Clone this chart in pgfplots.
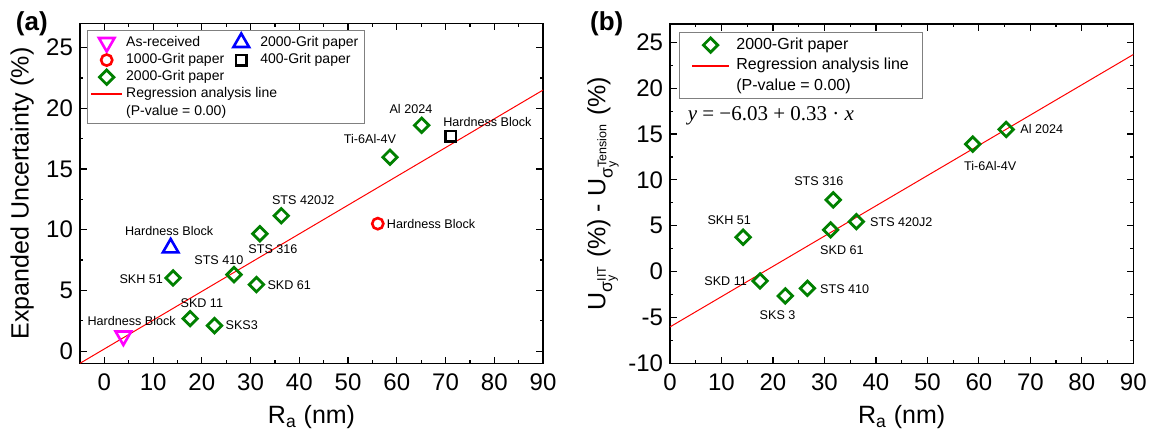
\documentclass[border=0pt]{standalone}
\usepackage{pgfplots}
\pgfplotsset{compat=1.18}
\usepackage{amsmath}
\usepackage{fontspec}
\setmainfont{Liberation Sans}
\newfontfamily\timesf{Liberation Serif}
\definecolor{mkgreen}{RGB}{0,128,0}
\definecolor{mkmag}{RGB}{255,0,255}
\definecolor{lgray}{RGB}{128,128,128}

\newcommand{\ann}{\fontsize{6.3}{7.5}\selectfont}
% legend images: width, colour, line width, mark, mark size, rotation
\newcommand{\lgmark}[6]{\addlegendimage{legend image code/.code={\path[draw=none] (0pt,0pt) (#1,0pt);
  \begin{scope}[shift={(0.5*#1,0pt)}, rotate=#6, color=#2, line width=#3]\pgfsetplotmarksize{#5}\pgfuseplotmark{#4}\end{scope}}}}
\newcommand{\lgline}[1]{\addlegendimage{legend image code/.code={\begin{scope}[color=red]
  \fill[red] (0pt,-0.25pt) rectangle (#1,0.25pt);\end{scope}}}}
\newcommand{\lgnone}[1]{\addlegendimage{legend image code/.code={\path[draw=none] (0pt,0pt) (#1,0pt);}}}

\pgfplotsset{
  panel/.style={
    scale only axis,
    clip=false,
    tick align=inside,
    minor x tick num=1, minor y tick num=1,
    major tick length=3.3pt, minor tick length=1.7pt,
    major tick style={line width=0.6pt, black},
    minor tick style={line width=0.6pt, black},
    axis line style={line width=0.75pt},
    tick label style={font=\fontsize{12}{14}\selectfont},
    x tick label style={yshift=-1.8pt},
    label style={font=\fontsize{12.5}{15}\selectfont},
    /pgf/number format/assume math mode=true,
    xtick={0,10,...,90},
    xlabel={R\textsubscript{a} (nm)},
    xlabel style={at={(axis description cs:0.5,-0.1785)}, anchor=base},
  },
  grn/.style={only marks, mark=square, mark size=2.55pt,
    mark options={rotate=45, line width=1.4pt, draw=mkgreen, fill=none}},
  tdn/.style={only marks, mark=triangle, mark size=4.5pt,
    mark options={rotate=180, line width=1.3pt, draw=mkmag, fill=none}},
  tup/.style={only marks, mark=triangle, mark size=4.5pt,
    mark options={line width=1.3pt, draw=blue, fill=none}},
  rcirc/.style={only marks, mark=o, mark size=2.8pt,
    mark options={line width=1.3pt, draw=red}},
  bsq/.style={only marks, mark=square, mark size=2.6pt,
    mark options={line width=1.3pt, draw=black, fill=none}},
  regl/.style={red, line width=0.5pt, sharp plot, no marks},
}

\pgfplotstableread{
x y
14.1 6.03
17.6 2.68
22.6 2.10
26.6 6.30
31.2 5.48
31.9 9.67
36.3 11.15
58.6 15.97
65.1 18.60
}\gritA

\pgfplotstableread{
x y
14.2 3.75
17.5 -1.02
22.4 -2.65
26.7 -1.82
31.2 4.55
31.7 7.82
36.2 5.45
58.8 13.90
65.3 15.50
}\gritB

\begin{document}
\begin{tikzpicture}
\useasboundingbox (0,0) rectangle (574.5pt,217pt);

% ---- (a)
\begin{axis}[panel,
  at={(40pt,35.35pt)}, anchor=south west,
  width=231.5pt, height=170pt,
  xmin=-5, xmax=90, ymin=-1, ymax=27,
  ytick={0,5,...,25},
  ylabel={Expanded Uncertainty (\%)},
  ylabel style={at={(axis description cs:-0.125,0.5)}, anchor=center},
  legend columns=2,
  legend style={at={(axis description cs:0,1)}, xshift=3.35pt, yshift=-3.35pt,
    anchor=north west, draw=lgray, line width=0.5pt,
    font=\fontsize{7}{8}\selectfont, inner xsep=2pt, inner ysep=1.5pt,
    row sep=0pt, column sep=0pt,
    nodes={inner sep=1pt, anchor=west},
    /tikz/every odd column/.style={column sep=1pt}},
  legend cell align=left,
]
\addplot[regl, forget plot] coordinates {(-5,-1) (90,21.5)};
\addplot[tdn, forget plot] coordinates {(3.9,1.25)};
\addplot[tup, forget plot] coordinates {(13.6,8.5)};
\addplot[rcirc, forget plot] coordinates {(56.1,10.5)};
\addplot[bsq, forget plot] coordinates {(71.1,17.7)};
\addplot[grn, forget plot] table[x=x,y=y] {\gritA};

\lgmark{15pt}{mkmag}{1.3pt}{triangle}{4.5pt}{180}
\addlegendentry{As-received}
\lgmark{15pt}{blue}{1.3pt}{triangle}{4.5pt}{0}
\addlegendentry{2000-Grit paper}
\lgmark{15pt}{red}{1.3pt}{o}{2.8pt}{0}
\addlegendentry{1000-Grit paper}
\lgmark{15pt}{black}{1.3pt}{square}{2.6pt}{0}
\addlegendentry{400-Grit paper}
\lgmark{15pt}{mkgreen}{1.4pt}{square}{2.55pt}{45}
\addlegendentry{2000-Grit paper}
\lgnone{0pt}
\addlegendentry{}
\lgline{15pt}
\addlegendentry{\makebox[0pt][l]{Regression analysis line}}
\lgnone{0pt}
\addlegendentry{}
\lgnone{0pt}
\addlegendentry{\makebox[0pt][l]{(P-value = 0.00)}}

\node[font=\ann] at (axis cs:5.6,2.52) {Hardness Block};
\node[font=\ann] at (axis cs:13.3,9.86) {Hardness Block};
\node[font=\ann, anchor=east, inner sep=0pt] at (axis cs:12.1,5.95) {SKH 51};
\node[font=\ann] at (axis cs:23.5,7.48) {STS 410};
\node[font=\ann] at (axis cs:34.6,8.41) {STS 316};
\node[font=\ann] at (axis cs:40.8,12.4) {STS 420J2};
\node[font=\ann, anchor=west, inner sep=0pt] at (axis cs:33.4,5.4) {SKD 61};
\node[font=\ann] at (axis cs:20.0,3.92) {SKD 11};
\node[font=\ann, anchor=west, inner sep=0pt] at (axis cs:24.8,2.1) {SKS3};
\node[font=\ann, anchor=west, inner sep=0pt] at (axis cs:57.9,10.5) {Hardness Block};
\node[font=\ann] at (axis cs:54.5,17.5) {Ti-6Al-4V};
\node[font=\ann] at (axis cs:62.9,19.95) {Al 2024};
\node[font=\ann] at (axis cs:78.6,18.85) {Hardness Block};
\node[font=\bfseries\fontsize{13}{15}\selectfont] at (rel axis cs:-0.104,1.0) {(a)};
\end{axis}

% ---- (b)
\begin{axis}[panel,
  at={(335pt,35.35pt)}, anchor=south west,
  width=231.65pt, height=169.65pt,
  xmin=0, xmax=90, ymin=-10, ymax=27,
  ytick={-10,-5,...,25},
  ylabel={$\text{U}_{\text{σ}_{\text{y}}^{\text{IIT}}}$ (\%) - $\text{U}_{\text{σ}_{\text{y}}^{\text{Tension}}}$ (\%)},
  ylabel style={at={(axis description cs:-0.1446,0.5)}, anchor=center},
  legend style={at={(axis description cs:0,1)}, xshift=4.65pt, yshift=-4.15pt,
    anchor=north west, draw=lgray, line width=0.5pt,
    font=\fontsize{8}{9.6}\selectfont, inner xsep=6pt, inner ysep=1.5pt,
    row sep=1pt, nodes={inner sep=1pt, anchor=west},
    /tikz/every odd column/.style={column sep=2.5pt}},
  legend cell align=left,
]
\addplot[regl, forget plot] coordinates {(0,-6.03) (90,23.67)};
\addplot[grn, forget plot] table[x=x,y=y] {\gritB};
\lgmark{18.3pt}{mkgreen}{1.4pt}{square}{2.55pt}{45}
\addlegendentry{2000-Grit paper}
\lgline{18.3pt}
\addlegendentry{Regression analysis line}
\lgnone{18.3pt}
\addlegendentry{(P-value = 0.00)}

\node[font=\ann] at (axis cs:28.9,9.9) {STS 316};
\node[font=\ann] at (axis cs:11.5,5.56) {SKH 51};
\node[font=\ann] at (axis cs:10.8,-1.02) {SKD 11};
\node[font=\ann] at (axis cs:20.9,-4.73) {SKS 3};
\node[font=\ann, anchor=west, inner sep=0pt] at (axis cs:29.1,-1.9) {STS 410};
\node[font=\ann] at (axis cs:33.4,2.29) {SKD 61};
\node[font=\ann, anchor=west, inner sep=0pt] at (axis cs:38.8,5.35) {STS 420J2};
\node[font=\ann] at (axis cs:62.2,11.55) {Ti-6Al-4V};
\node[font=\ann, anchor=west, inner sep=0pt] at (axis cs:68.0,15.5) {Al 2024};
\node[font=\timesf\fontsize{10.5}{12}\selectfont] at (axis cs:19.6,17.0)
  {\textit{y} = −6.03 + 0.33 · \textit{x}};
\node[font=\bfseries\fontsize{13}{15}\selectfont] at (rel axis cs:-0.1366,1.0) {(b)};
\end{axis}
\end{tikzpicture}
\end{document}
